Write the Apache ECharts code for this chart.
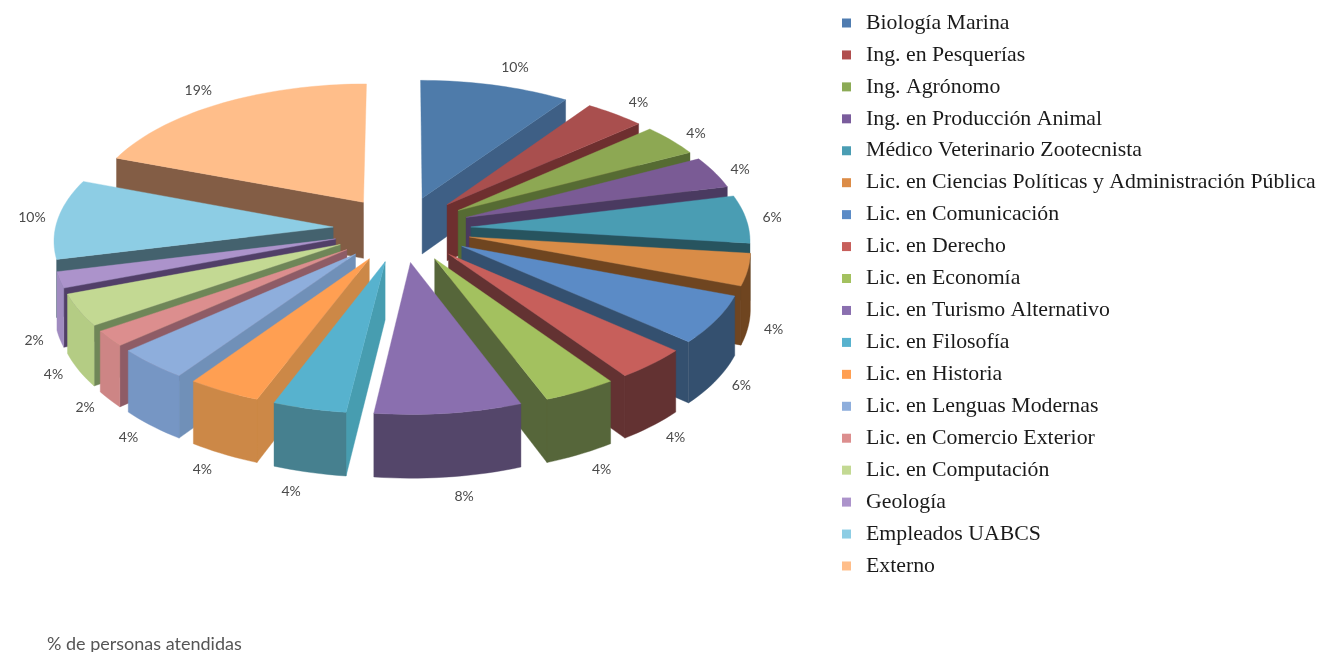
<!DOCTYPE html>
<html>
<head>
<meta charset="utf-8">
<style>html,body{margin:0;padding:0;background:#fff}#c{width:1320px;height:652px}</style>
<script src="https://cdn.jsdelivr.net/npm/echarts@6/dist/echarts.min.js"></script>
</head>
<body>
<div id="c"></div>
<script>
// Data
var carreras = ["Biología Marina","Ing. en Pesquerías","Ing. Agrónomo","Ing. en Producción Animal","Médico Veterinario Zootecnista","Lic. en Ciencias Políticas y Administración Pública","Lic. en Comunicación","Lic. en Derecho","Lic. en Economía","Lic. en Turismo Alternativo","Lic. en Filosofía","Lic. en Historia","Lic. en Lenguas Modernas","Lic. en Comercio Exterior","Lic. en Computación","Geología","Empleados UABCS","Externo"];
var personas = [5,2,2,2,3,2,3,2,2,4,2,2,2,1,2,1,5,10];
var subtitulo = "% de personas atendidas";

// Styles
var colorTop   = ["#4E7BAA","#A94F4E","#8DA853","#7A5B95","#4A9DB3","#D98C47","#5B8BC6","#C75F5B","#A3C15F","#8A6FAF","#57B2CE","#FF9F52","#8EAEDC","#DC8E8E","#C3D993","#AC93CB","#8DCDE4","#FFBE8A"];
var colorCut   = ["#3E5F85","#6E2F2F","#566B33","#4A3A60","#27545F","#6F4520","#34506F","#633232","#56663A","#54466A","#479DB0","#CC8847","#7090B8","#8E5C66","#6F8658","#513F68","#44626E","#835D45"];
var colorOuter = ["#3E5F85","#6E2F2F","#566B33","#4A3A60","#27545F","#6F4520","#34506F","#633232","#56663A","#54466A","#46808F","#CC8847","#7696C4","#CD8585","#B4CC84","#A08BC0","#7FB7CC","#D9A070"];
var colorLegend= ["#4F7CB0","#B04E4E","#8CAB56","#7A5C9C","#4A9DB3","#DC8C47","#5B8BC6","#C75F5B","#A3C15F","#8A6FAF","#57B2CE","#FF9F52","#8EAEDC","#DC8E8E","#C3D993","#AC93CB","#8DCDE4","#FFBE8A"];

// 3D projection of the exploded pie
var CX = 402, CY = 229, R = 278, EXPL = 69, KY = 0.478, PERSP = 0.000308, H = 57;
var total = personas.reduce(function (a, b) { return a + b; }, 0);
function rad(c) { return c / total * 2 * Math.PI; }
function project(u, v, z) {
  var s = 1 / (1 + PERSP * v);
  return [CX + u * s, CY - KY * v * s + z * s];
}
function groundPoint(mid, phi, r) {
  return [EXPL * Math.sin(mid) + r * Math.sin(phi), EXPL * Math.cos(mid) + r * Math.cos(phi)];
}
function renderSlice(i) {
  return function (params, api) {
    var a = rad(api.value(0)), b = rad(api.value(1)), m = (a + b) / 2;
    var at = function (phi, r, z) { var g = groundPoint(m, phi, r); return project(g[0], g[1], z); };
    var N = Math.max(2, Math.ceil((b - a) / 0.03));
    var arcTop = [];
    for (var k = 0; k <= N; k++) arcTop.push(at(a + (b - a) * k / N, R, 0));
    var children = [];
    function poly(points, fill) {
      children.push({ type: 'polygon', shape: { points: points }, style: { fill: fill, stroke: fill, lineWidth: 0.4 } });
    }
    // radial cut walls
    if (b < Math.PI) poly([at(b, 0, 0), at(b, R, 0), at(b, R, H), at(b, 0, H)], colorCut[i]);
    if (a > Math.PI) poly([at(a, 0, 0), at(a, R, 0), at(a, R, H), at(a, 0, H)], colorCut[i]);
    // outer curved wall, only for slices centred on the front half
    if (m > Math.PI / 2 && m < Math.PI * 1.5) {
      var w0 = Math.max(a, Math.PI / 2), w1 = Math.min(b, Math.PI * 1.5);
      var up = [], down = [], M = Math.max(2, Math.ceil((w1 - w0) / 0.03));
      for (var j = 0; j <= M; j++) {
        var p = w0 + (w1 - w0) * j / M;
        up.push(at(p, R, 0));
        down.unshift(at(p, R, H));
      }
      poly(up.concat(down), colorOuter[i]);
    }
    // top face
    poly([at(a, 0, 0)].concat(arcTop), colorTop[i]);
    // percent label
    var sn = Math.sin(m), cs = Math.cos(m);
    var base = at(m, R, cs < 0 ? H : 0);
    var dx = 26 * (sn < 0 ? -1 : 1) * Math.pow(Math.abs(sn), 0.25);
    var dy = cs < 0 ? 20 * cs * cs : -1 - 18 * cs * cs;
    children.push({
      type: 'text',
      style: {
        text: Math.round(api.value(2) / total * 100) + '%',
        x: base[0] + dx, y: base[1] + dy,
        fill: '#4a4a4a', font: '14px Lato', align: 'center', verticalAlign: 'middle'
      }
    });
    return { type: 'group', children: children };
  };
}

var acum = 0;
var series = carreras.map(function (nombre, i) {
  var ini = acum; acum += personas[i];
  var mid = rad((ini + acum) / 2);
  return {
    type: 'custom',
    name: nombre,
    coordinateSystem: 'none',
    silent: true,
    animation: false,
    z: 10 - Math.cos(mid) * 5,
    itemStyle: { color: colorLegend[i] },
    data: [[ini, acum, personas[i]]],
    renderItem: renderSlice(i)
  };
});

var chart = echarts.init(document.getElementById('c'), null, { renderer: 'canvas' });
chart.setOption({
  backgroundColor: '#fff',
  animation: false,
  title: {
    text: subtitulo, left: 47, top: 634, padding: 0,
    textStyle: { fontFamily: 'Lato', fontSize: 18, lineHeight: 20, fontWeight: 'normal', color: '#555' }
  },
  legend: {
    orient: 'vertical', left: 842, top: 9.5, padding: 0,
    icon: 'rect', itemWidth: 9, itemHeight: 9, itemGap: 4.94,
    selectedMode: false,
    data: carreras,
    textStyle: { fontFamily: 'Liberation Serif', fontSize: 21.8, color: '#1a1a1a', lineHeight: 22, padding: [5, 0, 0, 10] }
  },
  series: series
});
</script>
</body>
</html>
